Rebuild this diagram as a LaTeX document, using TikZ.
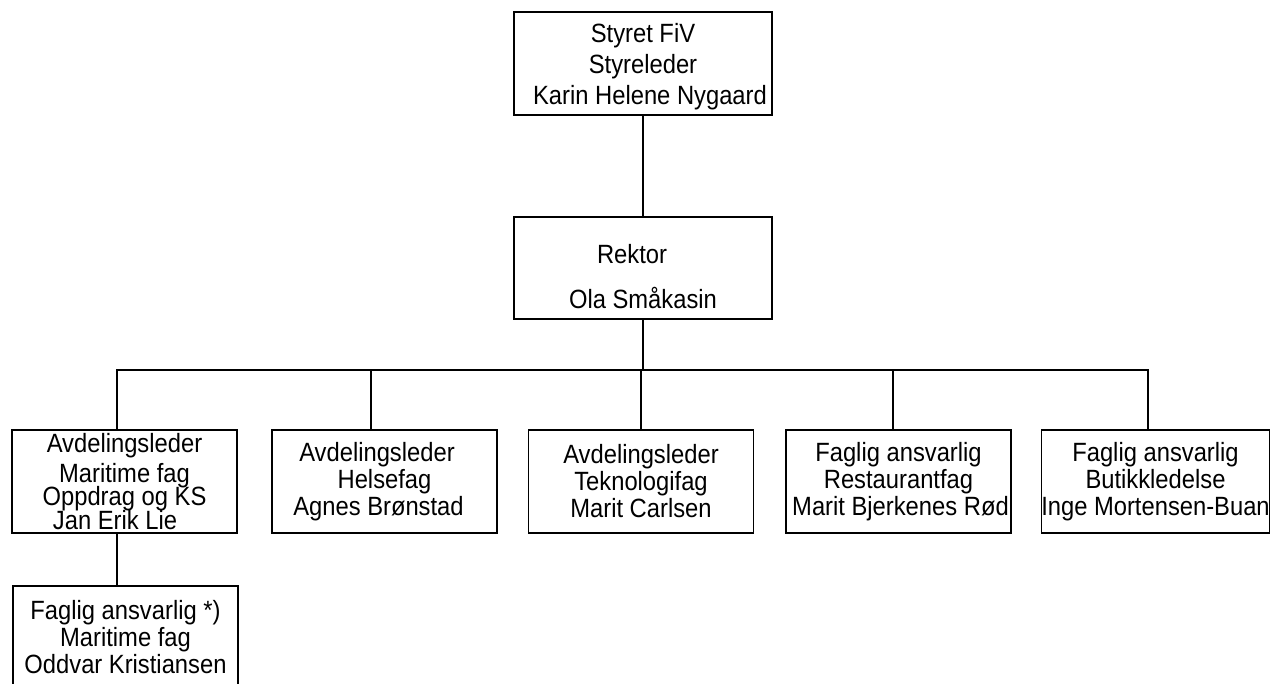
\documentclass[tikz,border=0pt]{standalone}
\usepackage{fontspec}
\setmainfont[FakeStretch=0.9]{Liberation Sans}
\tikzset{
  org box/.style={
    draw,
    line width=0.75pt,
    minimum width=112.5pt,
    minimum height=51.5pt,
    inner sep=0pt,
    align=center,
    font=\fontsize{13.2}{13.5}\selectfont,
  },
  wide box/.style={
    org box,
    minimum width=129pt,
  },
}
\begin{document}
\begin{tikzpicture}[x=0.5pt, y=-0.5pt, line width=0.75pt]
        \useasboundingbox (0,0) rectangle (1270,684);
        \clip (0,0) rectangle (1270,684);

        \node[wide box] (styret) at (643,63.5) {\rule{0pt}{12.7pt}Styret FiV\\[2pt] Styreleder\\[2pt] \hspace*{7pt}Karin Helene Nygaard};
        \node[wide box, minimum height=51pt] (rektor) at (643,268) {\rule{0pt}{18pt}Rektor\hspace*{11pt}\\[9pt] Ola Småkasin};

        \node[org box] (maritim) at (124.5,481.5) {Avdelingsleder\\[1.5pt] Maritime fag\\[-2pt] Oppdrag og KS\\[-1.5pt] Jan Erik Lie\hspace*{9.5pt}};
        \node[org box] (helse)   at (384.5,481.5) {Avdelingsleder\hspace*{7.5pt}\\ Helsefag\hspace*{17.5pt}\\ Agnes Brønstad\hspace*{6pt}};
        \node[org box] (tekno)   at (641,481.5)   {Avdelingsleder\\ Teknologifag\\ Marit Carlsen};
        \node[org box] (restaurant) at (898.5,481.5) {Faglig ansvarlig\\ Restaurantfag\hspace*{6.5pt}\\ \hspace*{2pt}Marit Bjerkenes Rød};
        \node[org box] (butikk)  at (1155.5,481.5) {Faglig ansvarlig\\ Butikkledelse\hspace*{12.5pt}\\ Inge Mortensen-Buan};

        \node[org box] (fagmaritim) at (125.5,637.5) {Faglig ansvarlig *)\\ Maritime fag\hspace*{10.5pt}\\ Oddvar Kristiansen};

        \coordinate (bar) at (643,370);

        \draw (styret) -- (rektor);
        \draw (rektor) -- (bar);
        \draw (bar) -| ([xshift=-3.75pt]maritim.north);
        \draw (bar) -| ([xshift=-6.75pt]helse.north);
        \draw (bar) -| (tekno.north);
        \draw (bar) -| ([xshift=-2.75pt]restaurant.north);
        \draw (bar) -| ([xshift=-3.75pt]butikk.north);
        \draw ([xshift=-3.75pt]maritim.south) -- ([xshift=-3.75pt]maritim.south |- fagmaritim.north);
\end{tikzpicture}
\end{document}
